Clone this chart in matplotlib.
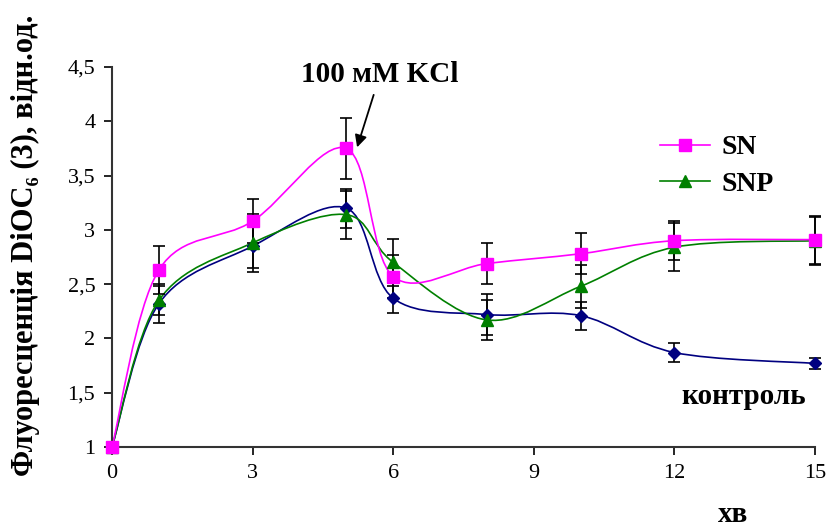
import numpy as np
import matplotlib
matplotlib.use("Agg")
import matplotlib.pyplot as plt
from matplotlib.path import Path
from matplotlib.patches import PathPatch

plt.rcParams['font.family'] = ['Liberation Serif', 'DejaVu Serif']

# time, min
minutes = [0, 1, 3, 5, 6, 8, 10, 12, 15]

# fluorescence values and errors
sn = [1.0, 2.63, 3.08, 3.75, 2.57, 2.69, 2.78, 2.90, 2.91]
sn_err = [0, 0.22, 0.20, 0.28, 0.20, 0.19, 0.19, 0.18, 0.22]

snp = [1.0, 2.35, 2.88, 3.14, 2.70, 2.17, 2.48, 2.84, 2.90]
snp_err = [0, 0.13, 0.27, 0.22, 0.22, 0.18, 0.20, 0.22, 0.22]

control = [1.0, 2.32, 2.85, 3.20, 2.37, 2.22, 2.21, 1.87, 1.77]
control_err = [0, 0.18, 0.20, 0.18, 0.14, 0.19, 0.13, 0.09, 0.05]

x_ticks = [0, 3, 6, 9, 12, 15]
y_ticks = [1, 1.5, 2, 2.5, 3, 3.5, 4, 4.5]


def smooth_path(x, y):
    # Excel-like smoothed line: cubic Bezier through the points
    pts = np.column_stack([x, y]).astype(float)
    n = len(pts)
    verts = [pts[0]]
    codes = [Path.MOVETO]
    for i in range(n - 1):
        p0 = pts[i - 1] if i > 0 else pts[i]
        p1, p2 = pts[i], pts[i + 1]
        p3 = pts[i + 2] if i + 2 < n else pts[i + 1]
        c1 = p1 + (p2 - p0) / 6
        c2 = p2 - (p3 - p1) / 6
        verts += [c1, c2, p2]
        codes += [Path.CURVE4] * 3
    return Path(verts, codes)


fig = plt.figure(figsize=(8.3, 5.27), dpi=100)
ax = fig.add_axes([112 / 830, 1 - 447 / 527, 703 / 830, 380 / 527])

series = [
    (control, control_err, "#000080", "D", 6.5, None),
    (snp, snp_err, "#008000", "^", 8, "SNP"),
    (sn, sn_err, "#FF00FF", "s", 8, "SN"),
]
handles = {}
for vals, err, col, mk, ms, lab in series:
    ax.add_patch(PathPatch(smooth_path(minutes, vals), fill=False,
                           edgecolor=col, lw=1.2, transform=ax.transData))
    ax.errorbar(minutes, vals, yerr=err, fmt="none", ecolor="black",
                elinewidth=1.2, capsize=4.5, capthick=1.2, clip_on=False)
    ax.plot(minutes, vals, ls="none", color=col, marker=mk,
            ms=ms, mec=col, mfc=col, clip_on=False, zorder=5)
    if lab:
        handles[lab] = ax.plot([], [], color=col, lw=1.2, marker=mk,
                               ms=ms, mec=col, mfc=col)[0]

ax.set_xlim(0, 15)
ax.set_ylim(1, 4.5)
ax.set_xticks(x_ticks)
ax.set_yticks(y_ticks)
ax.set_yticklabels([f"{t:g}".replace(".", ",") for t in y_ticks])
ax.tick_params(labelsize=16, length=6, width=1.2, direction="out", pad=6)
for s in ["top", "right"]:
    ax.spines[s].set_visible(False)
for s in ["left", "bottom"]:
    ax.spines[s].set_linewidth(1.5)
    ax.spines[s].set_color("#333333")

ax.legend([handles["SN"], handles["SNP"]], ["SN", "SNP"],
          loc="upper left", bbox_to_anchor=(635 / 830, 1 - 110 / 527),
          bbox_transform=fig.transFigure, frameon=False,
          prop={"weight": "bold", "size": 20}, handlelength=1.8,
          handletextpad=0.4, labelspacing=0.4)

ax.annotate("100 мМ KCl", xy=(5.23, 3.76), xytext=(5.72, 4.43),
            ha="center", va="center", fontsize=21, fontweight="bold",
            arrowprops=dict(arrowstyle="-|>", color="black", lw=1.3,
                            mutation_scale=18, shrinkA=3, shrinkB=0))

fig.text(744 / 830, 1 - 397 / 527, "контроль", ha="center", va="center",
         fontsize=21, fontweight="bold")
fig.text(733 / 830, 1 - 515 / 527, "хв", ha="center", va="center",
         fontsize=21, fontweight="bold")
fig.text(25 / 830, 1 - 245 / 527, "Флуоресценція DiOC₆ (3), відн.од.",
         rotation=90, ha="center", va="center", fontsize=22,
         fontweight="bold")

fig.savefig("out.png", dpi=100)
